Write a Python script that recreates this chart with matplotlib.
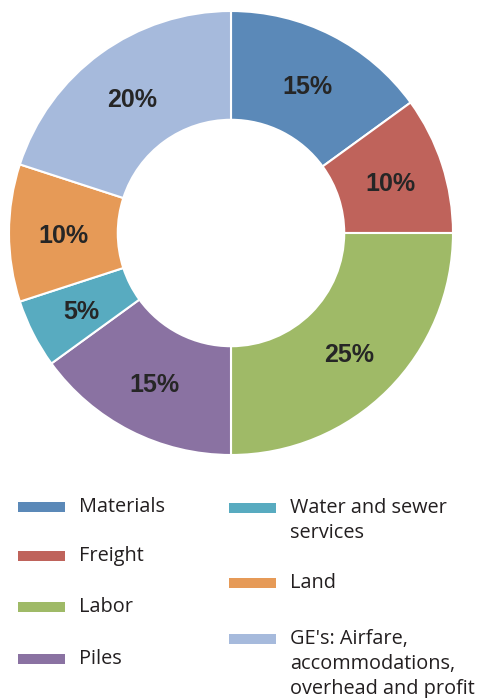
import matplotlib
matplotlib.use("Agg")
import matplotlib.pyplot as plt
from matplotlib.patches import Rectangle

labels = ["Materials", "Freight", "Labor", "Piles",
          "Water and sewer\nservices", "Land",
          "GE's: Airfare,\naccommodations,\noverhead and profit"]
shares = [15, 10, 25, 15, 5, 10, 20]
colors = ["#5b89b8", "#bf635b", "#9fba67", "#8a72a2",
          "#58abc0", "#e69a57", "#a6badc"]

fig = plt.figure(figsize=(4.79, 6.98), dpi=100)

# donut
ax = fig.add_axes([9 / 479, 243 / 698, 444 / 479, 444 / 698])
wedges, texts, autotexts = ax.pie(
    shares, colors=colors, startangle=90, counterclock=False,
    autopct="%d%%", pctdistance=0.755,
    wedgeprops=dict(width=0.49, edgecolor="white", linewidth=1.5),
    textprops=dict(fontsize=18, fontweight="bold", color="#262626",
                   family="Liberation Sans"))
# nudge the labels a touch down, as in the original
for t in autotexts:
    x, y = t.get_position()
    t.set_position((x, y - 3 / 222))
ax.set_xlim(-1, 1)
ax.set_ylim(-1, 1)
ax.set_aspect("equal")

# legend, two columns drawn by hand
W, H = 479, 698
left_col = [0, 1, 2, 3]
right_col = [4, 5, 6]
left_y = [507, 556, 607, 659]
right_y = [508, 583, 639]
line_h = 25

def entry(i, x_sw, x_txt, y):
    fig.add_artist(Rectangle((x_sw / W, 1 - (y + 5) / H), 47 / W, 10 / H,
                             transform=fig.transFigure, color=colors[i], lw=0))
    for k, line in enumerate(labels[i].split("\n")):
        fig.text(x_txt / W, 1 - (y + k * line_h) / H, line,
                 fontsize=14.3, color="#231f20", family="Open Sans",
                 va="center", ha="left")

for i, y in zip(left_col, left_y):
    entry(i, 18, 79, y)
for i, y in zip(right_col, right_y):
    entry(i, 229, 290, y)

fig.savefig("out.png", dpi=100)
